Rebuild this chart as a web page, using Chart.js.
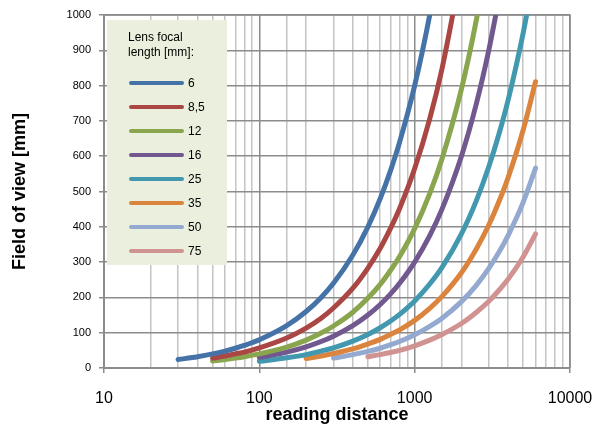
<!DOCTYPE html>
<html>
<head>
<meta charset="utf-8">
<script src="https://cdn.jsdelivr.net/npm/chart.js@4.4.0/dist/chart.umd.min.js"></script>
<style>
	html, body { margin: 0; padding: 0; background: #fff; }
	#wrap { width: 594px; height: 428px; }
</style>
</head>
<body>
<div id="wrap"><canvas id="fovCanvas" width="594" height="428"></canvas></div>
<script>
// reading distance (x, log scale)
const distances = [30, 40, 50, 60, 70, 80, 100, 150, 200, 250, 300, 400, 500, 600, 700, 800,
	1000, 1250, 1500, 2000, 2500, 3000, 3500, 4000, 5000, 6000];

// lens focal length [mm] -> legend labels
const focalLabels = ["6", "8,5", "12", "16", "25", "35", "50", "75"];

// field of view [mm] per lens (null = no point)
const fov6  = [24, 32, 40, 48, 56, 64, 80, 120, 160, 200, 240, 320, 400, 480, 560, 640, 800, 1000, 1200, null, null, null, null, null, null, null];
const fov8  = [null, null, 28, 34, 40, 45, 57, 85, 113, 141, 170, 226, 283, 339, 396, 452, 565, 706, 848, 1130, null, null, null, null, null, null];
const fov12 = [null, null, 20, 24, 28, 32, 40, 59, 79, 99, 119, 158, 198, 237, 277, 316, 395, 494, 593, 790, 988, 1185, null, null, null, null];
const fov16 = [null, null, null, null, null, null, 30, 45, 60, 75, 90, 120, 150, 180, 210, 240, 300, 375, 450, 600, 750, 900, 1050, null, null, null];
const fov25 = [null, null, null, null, null, null, 19, 29, 38, 48, 57, 76, 95, 114, 133, 152, 190, 238, 285, 380, 475, 570, 665, 760, 950, 1140];
const fov35 = [null, null, null, null, null, null, null, null, 27, 34, 41, 54, 68, 81, 95, 108, 135, 169, 203, 270, 338, 405, 473, 540, 675, 811];
const fov50 = [null, null, null, null, null, null, null, null, null, null, 28, 38, 47, 56, 66, 75, 94, 118, 141, 188, 235, 282, 329, 376, 470, 566];
const fov75 = [null, null, null, null, null, null, null, null, null, null, null, null, 32, 38, 44, 50, 63, 79, 95, 126, 158, 189, 221, 252, 315, 380];

const seriesData = [fov6, fov8, fov12, fov16, fov25, fov35, fov50, fov75];
const seriesColors = ["#4572A7", "#AA4643", "#89A54E", "#71588F", "#4198AF", "#DB843D", "#93A9CF", "#D19392"];

const xTickLabels = [10, 100, 1000, 10000];

// legend drawn inside the plot area, like the original
const lensLegend = {
	id: 'lensLegend',
	afterDatasetsDraw(chart) {
		const ctx = chart.ctx;
		const area = chart.chartArea;
		const left = area.left + 3;
		const top = area.top + 5;
		ctx.save();
		ctx.fillStyle = "#ebf0de";
		ctx.fillRect(left, top, 120, 245);
		ctx.fillStyle = "#000";
		ctx.font = "12px 'Liberation Sans', Arial, sans-serif";
		ctx.textBaseline = "middle";
		ctx.textAlign = "left";
		ctx.fillText("Lens focal", left + 21, top + 18);
		ctx.fillText("length [mm]:", left + 21, top + 33);
		chart.data.datasets.forEach(function(ds, i) {
			const y = top + 63 + i * 24;
			ctx.strokeStyle = ds.borderColor;
			ctx.lineWidth = 4;
			ctx.lineCap = "round";
			ctx.beginPath();
			ctx.moveTo(left + 24, y);
			ctx.lineTo(left + 75, y);
			ctx.stroke();
			ctx.fillStyle = "#000";
			ctx.fillText(ds.label, left + 81, y + 1);
		});
		ctx.restore();
	}
};

// outer border of the plot
const plotBorder = {
	id: 'plotBorder',
	beforeDatasetsDraw(chart) {
		const ctx = chart.ctx;
		const a = chart.chartArea;
		ctx.save();
		ctx.strokeStyle = "#8c8c8c";
		ctx.lineWidth = 1.5;
		ctx.beginPath();
		ctx.moveTo(a.left, a.top);
		ctx.lineTo(a.right, a.top);
		ctx.lineTo(a.right, a.bottom);
		ctx.stroke();
		ctx.restore();
	}
};

var datasets = [];
for (let i = 0; i < seriesData.length; i++) {
	datasets.push({
		label: focalLabels[i],
		data: seriesData[i],
		borderColor: seriesColors[i],
		backgroundColor: seriesColors[i],
		borderWidth: 5,
		borderCapStyle: 'round',
		borderJoinStyle: 'round',
		pointRadius: 0,
		cubicInterpolationMode: 'monotone',
		clip: 0
	});
}

function isMajor(v) {
	return xTickLabels.indexOf(v) !== -1;
}

var ctx = document.getElementById("fovCanvas").getContext("2d");

new Chart(ctx, {
	type: 'line',
	data: {
		labels: distances,
		datasets: datasets
	},
	options: {
		responsive: false,
		animation: false,
		events: [],
		layout: {
			padding: { left: 0, right: 24, top: 15, bottom: 0 }
		},
		plugins: {
			legend: { display: false },
			tooltip: { enabled: false }
		},
		scales: {
			x: {
				type: 'logarithmic',
				min: 10,
				max: 10000,
				border: { color: "#8c8c8c", width: 2 },
				grid: {
					color: function(c) { return isMajor(c.tick && c.tick.value) ? "#8c8c8c" : "#c4c4c4"; },
					lineWidth: 1.5,
					tickColor: function(c) { return isMajor(c.tick && c.tick.value) ? "#8c8c8c" : "rgba(0,0,0,0)"; },
					tickLength: 5
				},
				ticks: {
					autoSkip: false,
					maxRotation: 0,
					color: "#000",
					padding: 16,
					font: { family: "'Liberation Sans', Arial, sans-serif", size: 16 },
					callback: function(value) {
						return isMajor(value) ? String(value) : '';
					}
				},
				title: {
					display: true,
					text: 'reading distance',
					color: "#000",
					padding: { top: 0, bottom: 2 },
					font: { family: "'Liberation Sans', Arial, sans-serif", size: 18, weight: 'bold' }
				},
				afterFit: function(scale) {
					scale.height = 60;
					scale.paddingLeft = 0;
					scale.paddingRight = 22;
				}
			},
			y: {
				min: 0,
				max: 1000,
				border: { color: "#8c8c8c", width: 2 },
				grid: {
					color: "#8c8c8c",
					lineWidth: 1.5,
					tickLength: 5
				},
				ticks: {
					stepSize: 100,
					color: "#000",
					padding: 8,
					font: { family: "'Liberation Sans', Arial, sans-serif", size: 11 },
					callback: function(value) { return String(value); }
				},
				title: {
					display: true,
					text: 'Field of view [mm]',
					color: "#000",
					padding: { top: 9, bottom: 0 },
					font: { family: "'Liberation Sans', Arial, sans-serif", size: 18, weight: 'bold' }
				},
				afterFit: function(scale) { scale.width = 104; }
			}
		}
	},
	plugins: [plotBorder, lensLegend]
});
</script>
</body>
</html>
